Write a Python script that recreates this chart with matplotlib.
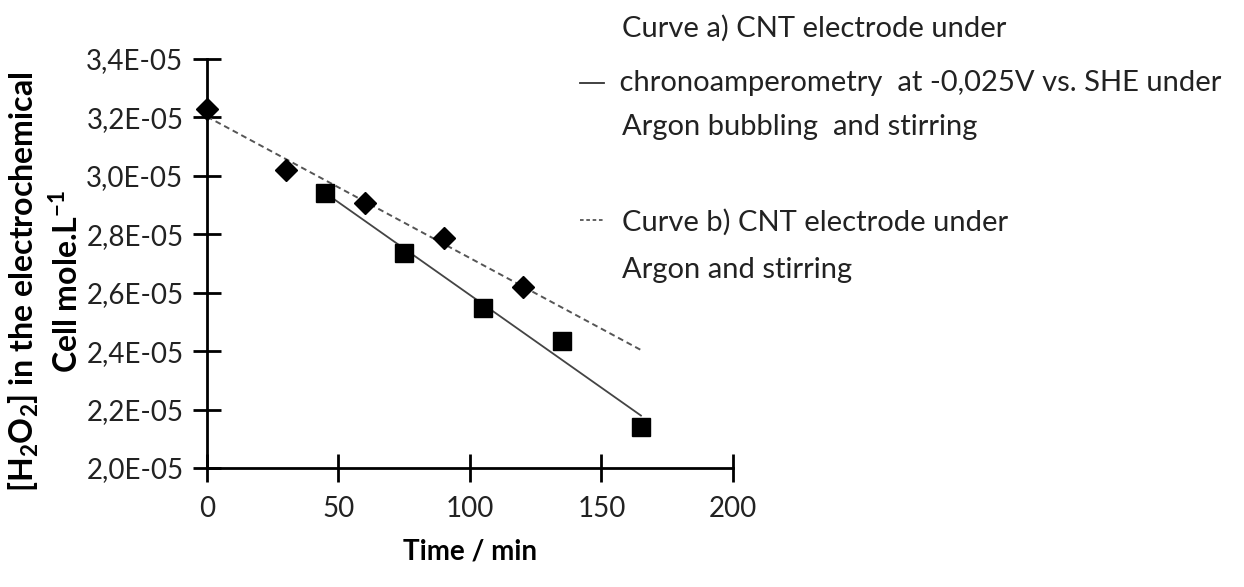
import numpy as np
import matplotlib
matplotlib.use("Agg")
import matplotlib.pyplot as plt
from matplotlib.ticker import FuncFormatter, MultipleLocator

plt.rcParams['font.family'] = ['Lato', 'DejaVu Sans']
plt.rcParams['mathtext.fontset'] = 'custom'
plt.rcParams['mathtext.rm'] = 'Lato'
plt.rcParams['mathtext.bf'] = 'Lato:bold'

# Curve a) CNT electrode, chronoamperometry + Argon bubbling and stirring
t_a = [45, 75, 105, 135, 165]
h2o2_a = [2.942e-5, 2.737e-5, 2.547e-5, 2.435e-5, 2.141e-5]

# Curve b) CNT electrode, Argon and stirring only
t_b = [0, 30, 60, 90, 120]
h2o2_b = [3.229e-5, 3.020e-5, 2.906e-5, 2.786e-5, 2.620e-5]

x_ticks = [0, 50, 100, 150, 200]
label_a = ["Curve a) CNT electrode under",
           " chronoamperometry  at -0,025V vs. SHE under",
           "Argon bubbling  and stirring"]
label_b = ["Curve b) CNT electrode under",
           "Argon and stirring"]

fig = plt.figure(figsize=(12.44, 5.87), dpi=100)
ax = fig.add_axes([0.1664, 0.2027, 0.4228, 0.6968])

# linear trend lines (forecast to 165 min like the spreadsheet)
pa = np.polyfit(t_a, h2o2_a, 1)
pb = np.polyfit(t_b, h2o2_b, 1)
xa = np.array([45, 165])
xb = np.array([0, 165])
ax.plot(xa, np.polyval(pa, xa), color='#444444', lw=1.3, zorder=2)
ax.plot(xb, np.polyval(pb, xb), color='#555555', lw=1.4, ls=(0, (3, 2)), zorder=2)

ax.plot(t_a, h2o2_a, ls='none', marker='s', ms=13, color='black', zorder=3, clip_on=False)
ax.plot(t_b, h2o2_b, ls='none', marker='D', ms=11, color='black', zorder=3, clip_on=False)

ax.set_xlim(0, 200)
ax.set_ylim(2.0e-5, 3.4e-5)
ax.set_xticks(x_ticks)
ax.yaxis.set_major_locator(MultipleLocator(0.2e-5))
ax.yaxis.set_major_formatter(FuncFormatter(lambda v, p: ("%.1E" % v).replace('.', ',')))

for s in ['top', 'right']:
    ax.spines[s].set_visible(False)
for s in ['left', 'bottom']:
    ax.spines[s].set_linewidth(2)
    ax.spines[s].set_color('black')
ax.tick_params(direction='inout', length=20, width=2, labelsize=20, colors='black',
               labelcolor='#222222')
ax.tick_params(axis='y', pad=7)
ax.tick_params(axis='x', pad=10)

ax.set_xlabel("Time / min", fontsize=20, fontweight='bold', labelpad=12)
fig.text(0.019, 0.52, r"[H$_\mathbf{2}$O$_\mathbf{2}$] in the electrochemical",
         rotation=90, ha='center', va='center', fontsize=23, fontweight='bold')
fig.text(0.053, 0.52, r"Cell mole.L$^\mathbf{-1}$",
         rotation=90, ha='center', va='center', fontsize=23, fontweight='bold')

# legend drawn by hand to the right of the plot
fig.lines.append(plt.Line2D([580 / 1244, 604 / 1244], [1 - 83 / 587] * 2,
                            transform=fig.transFigure, color='#333333', lw=1.3))
fig.lines.append(plt.Line2D([580 / 1244, 604 / 1244], [1 - 220 / 587] * 2,
                            transform=fig.transFigure, color='#555555', lw=1.3,
                            ls=(0, (2, 1.5))))
for txt, yp in zip(label_a, [28, 83, 127]):
    xp = 612 if txt.startswith(' ') else 622
    fig.text(xp / 1244, 1 - yp / 587, txt,
             ha='left', va='center', fontsize=21, color='#222222')
for txt, yp in zip(label_b, [222, 270]):
    fig.text(622 / 1244, 1 - yp / 587, txt, ha='left', va='center', fontsize=21,
             color='#222222')

fig.savefig('out.png', dpi=100)
